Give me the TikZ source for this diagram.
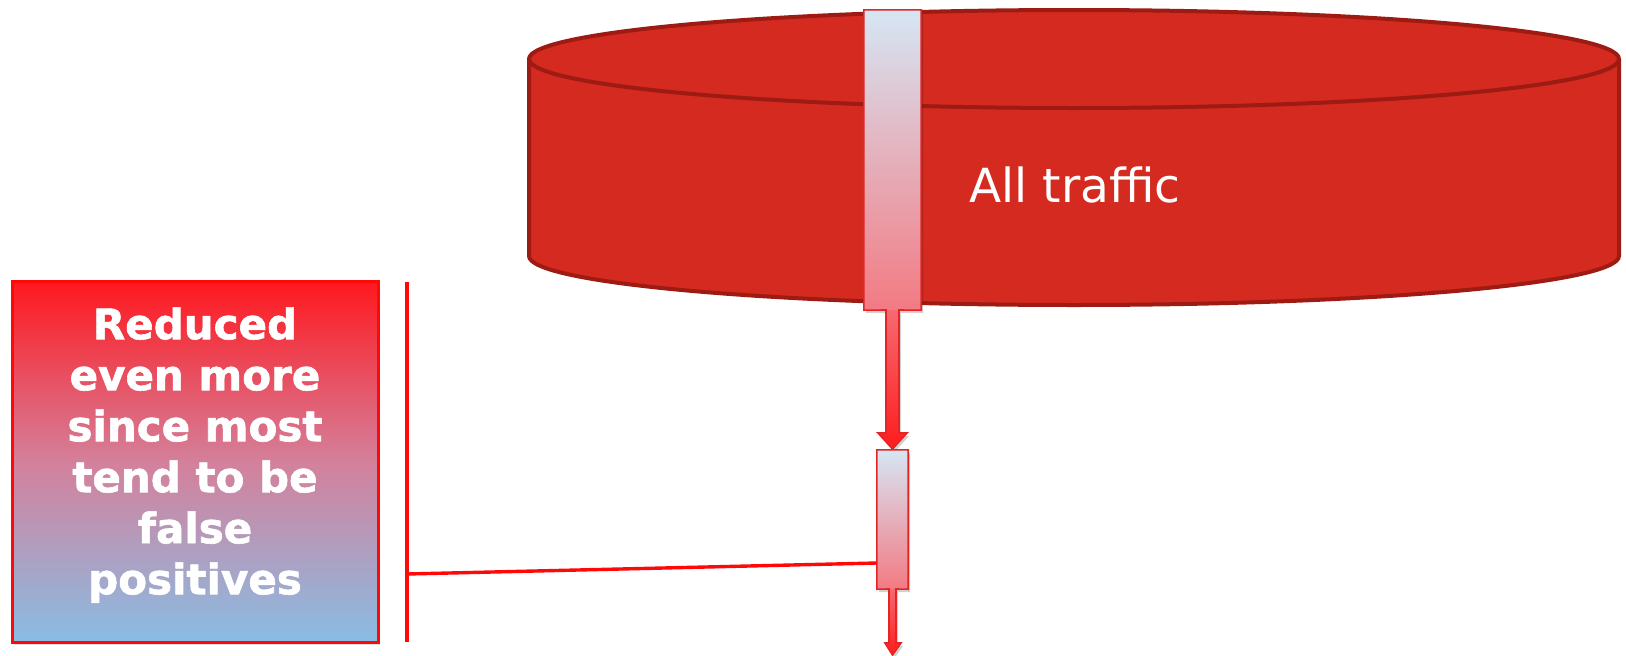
\documentclass[tikz,border=0pt]{standalone}
\usepackage{fontspec}
\setmainfont{DejaVu Sans}
\newfontfamily\heavyfont[FakeBold=1.4]{DejaVu Sans Bold}
\usetikzlibrary{shadows}
\definecolor{cylfill}{RGB}{212,42,31}
\definecolor{cylline}{RGB}{158,27,20}
\definecolor{calltop}{RGB}{214,230,244}
\definecolor{callbot}{RGB}{243,122,130}
\definecolor{shafttop}{RGB}{245,105,112}
\definecolor{tipred}{RGB}{255,28,28}
\definecolor{callline}{RGB}{226,38,38}
\definecolor{boxtop}{RGB}{255,24,30}
\definecolor{boxmid}{RGB}{212,128,155}
\definecolor{boxbot}{RGB}{137,189,228}
\definecolor{linered}{RGB}{255,8,8}
\begin{document}
\begin{tikzpicture}[x=1pt,y=-1pt,
  cylstroke/.style={draw=cylline, line width=4pt},
  callbox/.style={inner sep=0pt, top color=calltop, bottom color=callbot},
  calloutline/.style={draw=callline, line width=1.6pt, line join=miter},
  calshadow/.style={fill=black, opacity=0.18},
  shaftshade/.style={top color=shafttop, bottom color=tipred},
  notebox/.style={draw=linered, line width=3pt, top color=boxtop, bottom color=boxbot, middle color=boxmid,
    text=white, inner sep=0pt, font=\heavyfont\fontsize{42}{51}\selectfont,
    drop shadow={shadow xshift=2pt, shadow yshift=-3pt, opacity=0.25}},
  redline/.style={draw=linered, line width=3.4pt},
  bigtext/.style={text=white, font=\fontsize{47}{56}\selectfont, inner sep=0pt}]
\useasboundingbox (0,0) rectangle (1626,656);

% cylinder
\path[fill=cylfill] (529,59) -- (529,256) arc[start angle=180, end angle=0, x radius=545, y radius=49] -- (1619,59) -- cycle;
\draw[cylstroke] (529,59) -- (529,256) arc[start angle=180, end angle=0, x radius=545, y radius=49] -- (1619,59);
\draw[cylstroke, fill=cylfill] (1074,59) ellipse[x radius=545, y radius=49];
\node[bigtext, anchor=base] (all) at (1075,202) {All traffic};

% shadows of callouts
\fill[calshadow, shift={(2,3)}] (864,10) -- (921,10) -- (921,310) -- (899,310) -- (899,433) -- (907,433) -- (892.5,449) -- (878,433) -- (886,433) -- (886,310) -- (864,310) -- cycle;
\fill[calshadow, shift={(2,3)}] (877,450) -- (908,450) -- (908,589) -- (896,589) -- (896,643) -- (901,643) -- (892.5,655) -- (885,643) -- (889,643) -- (889,589) -- (877,589) -- cycle;

% callout 1
\node[callbox, minimum width=57pt, minimum height=300pt] (c1) at (892.5,160) {};
\path[shaftshade] (886,310) -- (886,433) -- (878,433) -- (892.5,449) -- (907,433) -- (899,433) -- (899,310) -- cycle;
\draw[calloutline] (c1.south west) -- (c1.north west) -- (c1.north east) -- (c1.south east) -- (899,310) -- (899,433) -- (907,433) -- (892.5,449) -- (878,433) -- (886,433) -- (886,310) -- cycle;

% callout 2
\node[callbox, minimum width=31pt, minimum height=139pt] (c2) at (892.5,519.5) {};
\path[shaftshade] (889,589) -- (889,643) -- (885,643) -- (892.5,655) -- (901,643) -- (896,643) -- (896,589) -- cycle;
\draw[calloutline] (c2.south west) -- (c2.north west) -- (c2.north east) -- (c2.south east) -- (896,589) -- (896,643) -- (901,643) -- (892.5,655) -- (885,643) -- (889,643) -- (889,589) -- cycle;

% note box
\node[notebox, minimum width=366pt, minimum height=361pt] (note) at (195,461.5)
  {\raisebox{0pt}[\height][\dimexpr\depth+10pt\relax]{\begin{tabular}{@{}c@{}}Reduced\\even more\\since most\\tend to be\\false\\positives\end{tabular}}};

% bracket line and connector
\coordinate (vt) at (407,282);
\coordinate (vb) at (407,642);
\coordinate (vj) at (407,574);
\coordinate (cj) at (877,563);
\draw[redline] (vt) -- (vb);
\draw[redline] (vj) -- (cj);
\end{tikzpicture}
\end{document}
